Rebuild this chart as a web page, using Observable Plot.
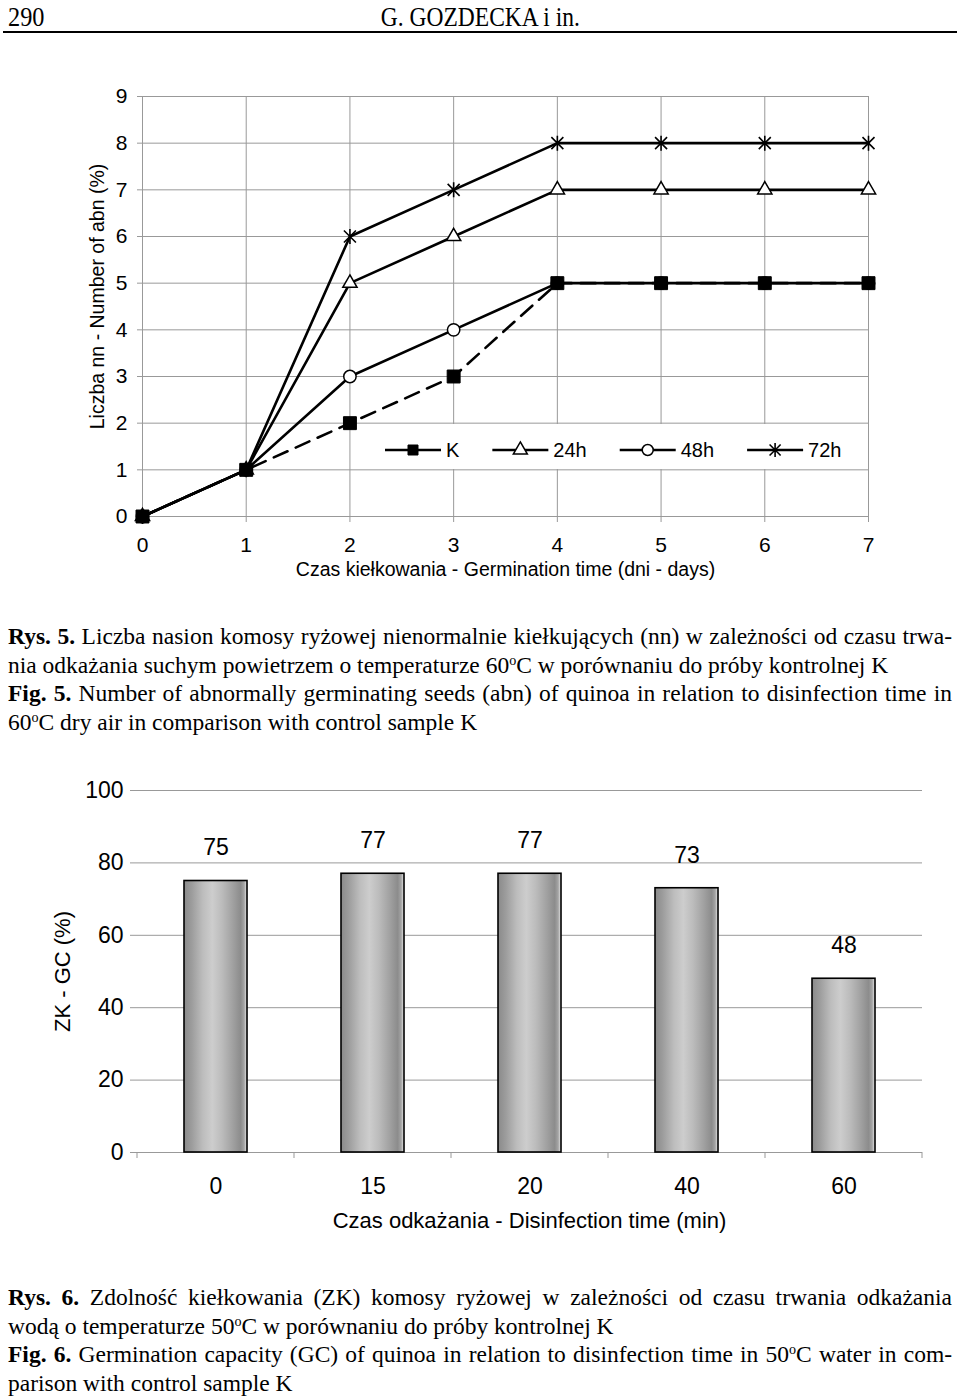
<!DOCTYPE html>
<html>
<head>
<meta charset="utf-8">
<script src="https://cdn.jsdelivr.net/npm/d3@7"></script>
<script src="https://cdn.jsdelivr.net/npm/@observablehq/plot@0.6"></script>
<style>
  html, body { margin: 0; padding: 0; background: #fff; }
  #page { position: relative; width: 960px; height: 1397px; overflow: hidden; background: #fff;
          font-family: "Liberation Sans", Arial, sans-serif; color: #000; }
  .serif { font-family: "Liberation Serif", "Times New Roman", serif; color: #000; }
  .cap { position: absolute; left: 8px; width: 944px; font-size: 23.5px; line-height: 28.6px; }
  .cap > div { white-space: nowrap; height: 28.6px; }
  .cap > div > span { display: inline-block; white-space: nowrap; transform-origin: 0 50%; }
  .cap b { font-weight: bold; }
  sup { font-size: 0.6em; vertical-align: 0.55em; line-height: 0; }
  .chart { position: absolute; left: 0; }
  .legend { position: absolute; left: 368px; width: 482px; height: 45px; background: #fff; }
</style>
</head>
<body>
<div id="page">
  <div class="serif" style="position:absolute; left:8px; top:2px;">
    <span style="display:inline-block; font-size:27px; line-height:30px; transform:scaleX(0.9); transform-origin:0 0;">290</span>
  </div>
  <div class="serif" style="position:absolute; left:0; width:960px; top:2px; text-align:center;">
    <span style="display:inline-block; font-size:27px; line-height:30px; transform:scaleX(0.87);">G. GOZDECKA i in.</span>
  </div>
  <div style="position:absolute; left:3px; width:954px; top:31px; height:2px; background:#000;"></div>

  <div id="chart1" class="chart" style="top:70px;"></div>
  <div id="chart2" class="chart" style="top:760px;"></div>

  <div class="cap serif" style="top:622px;">
    <div class="j"><span><b>Rys. 5.</b> Liczba nasion komosy ryżowej nienormalnie kiełkujących (nn) w zależności od czasu trwa-</span></div>
    <div><span>nia odkażania suchym powietrzem o temperaturze 60<sup>o</sup>C w porównaniu do próby kontrolnej K</span></div>
    <div class="j"><span><b>Fig. 5.</b> Number of abnormally germinating seeds (abn) of quinoa in relation to disinfection time in</span></div>
    <div><span>60<sup>o</sup>C dry air in comparison with control sample K</span></div>
  </div>

  <div class="cap serif" style="top:1283px;">
    <div class="j"><span><b>Rys. 6.</b> Zdolność kiełkowania (ZK) komosy ryżowej w zależności od czasu trwania odkażania</span></div>
    <div><span>wodą o temperaturze 50<sup>o</sup>C w porównaniu do próby kontrolnej K</span></div>
    <div class="j"><span><b>Fig. 6.</b> Germination capacity (GC) of quinoa in relation to disinfection time in 50<sup>o</sup>C water in com-</span></div>
    <div><span>parison with control sample K</span></div>
  </div>
</div>

<script>
// ---------- Data: Fig. 5 (line chart) ----------
const days = [0, 1, 2, 3, 4, 5, 6, 7];
const valuesK   = [0, 1, 2, 3, 5, 5, 5, 5];
const values24h = [0, 1, 5, 6, 7, 7, 7, 7];
const values48h = [0, 1, 3, 4, 5, 5, 5, 5];
const values72h = [0, 1, 6, 7, 8, 8, 8, 8];
const seriesNames = ["K", "24h", "48h", "72h"];
const yTicks1 = [0, 1, 2, 3, 4, 5, 6, 7, 8, 9];
const xLabel1 = "Czas kiełkowania - Germination time (dni - days)";
const yLabel1 = "Liczba nn - Number of abn (%)";

// ---------- Data: Fig. 6 (bar chart) ----------
const times = ["0", "15", "20", "40", "60"];
const gcValues = [75, 77, 77, 73, 48];
const yTicks2 = [0, 20, 40, 60, 80, 100];
const xLabel2 = "Czas odkażania - Disinfection time (min)";
const yLabel2 = "ZK - GC (%)";

// ---------- Styling ----------
const gridColor = "#999999";
const font = "Liberation Sans, Arial, sans-serif";

const starSymbol = {
  draw(ctx, size) {
    const r = Math.sqrt(size / Math.PI);
    const a = r * 0.8;
    ctx.moveTo(0, -r); ctx.lineTo(0, r);
    ctx.moveTo(-a, -a); ctx.lineTo(a, a);
    ctx.moveTo(-a, a); ctx.lineTo(a, -a);
  }
};

const seriesValues = new Map([["K", valuesK], ["24h", values24h], ["48h", values48h], ["72h", values72h]]);
const rows = seriesNames.flatMap(s => days.map((d, i) => ({series: s, day: d, value: seriesValues.get(s)[i]})));
const of = s => rows.filter(r => r.series === s);

const markerStyle = {
  "K":   {symbol: "square",   r: 7.3, fill: "black", stroke: "black", strokeWidth: 1},
  "24h": {symbol: "triangle", r: 5.3, fill: "white", stroke: "black", strokeWidth: 1.5},
  "48h": {symbol: "circle",   r: 6.2, fill: "white", stroke: "black", strokeWidth: 1.5},
  "72h": {symbol: starSymbol, r: 7.5, fill: "none",  stroke: "black", strokeWidth: 1.6}
};

const chart1 = Plot.plot({
  width: 960, height: 530,
  marginTop: 26, marginRight: 92, marginBottom: 84, marginLeft: 142,
  style: {fontFamily: font, background: "transparent", color: "black", overflow: "visible"},
  x: {domain: [0, 7]},
  y: {domain: [0, 9]},
  marks: [
    Plot.gridY(yTicks1, {stroke: gridColor, strokeOpacity: 1}),
    Plot.gridX(days, {stroke: gridColor, strokeOpacity: 1}),
    Plot.axisY(yTicks1, {tickSize: 5, tickPadding: 10, stroke: gridColor, fill: "black", fontSize: 21, label: null}),
    Plot.axisX(days, {tickSize: 6, tickPadding: 15, stroke: gridColor, fill: "black", fontSize: 21, label: null}),
    Plot.line(of("72h"), {x: "day", y: "value", stroke: "black", strokeWidth: 2.6}),
    Plot.line(of("24h"), {x: "day", y: "value", stroke: "black", strokeWidth: 2.6}),
    Plot.line(of("48h"), {x: "day", y: "value", stroke: "black", strokeWidth: 2.6}),
    Plot.line(of("K"),   {x: "day", y: "value", stroke: "black", strokeWidth: 2.6, strokeDasharray: "15,9"}),
    ...["72h", "48h", "24h", "K"].map(s => Plot.dot(of(s), {x: "day", y: "value", ...markerStyle[s]})),
    Plot.text([xLabel1], {text: d => d, frameAnchor: "bottom", dy: 53, fontSize: 19.5, lineAnchor: "middle", textAnchor: "middle"}),
    Plot.text([yLabel1], {text: d => d, frameAnchor: "left", dx: -45, dy: -10, rotate: -90, fontSize: 19.5, lineAnchor: "middle", textAnchor: "middle"})
  ]
});
document.getElementById("chart1").append(chart1);

// Legend (inside the plot area, as in the original)
(function legend() {
  const div = d3.select("#chart1").append("div").attr("class", "legend").style("top", (424 - 70) + "px");
  const svg = div.append("svg").attr("width", 482).attr("height", 45).style("overflow", "visible");
  const sym = {
    "K": d3.symbol(d3.symbolSquare, 100),
    "24h": d3.symbol(d3.symbolTriangle, 85),
    "48h": d3.symbol(d3.symbolCircle, 95),
    "72h": d3.symbol(starSymbol, 150)
  };
  const cy = 26;
  let x = 17;
  seriesNames.forEach(s => {
    const len = 56;
    svg.append("line").attr("x1", x).attr("x2", x + len).attr("y1", cy).attr("y2", cy)
      .attr("stroke", "black").attr("stroke-width", 2.6);
    const st = markerStyle[s];
    svg.append("path").attr("d", sym[s]()).attr("transform", `translate(${x + len / 2},${cy})`)
      .attr("fill", st.fill).attr("stroke", "black").attr("stroke-width", st.strokeWidth);
    const t = svg.append("text").attr("x", x + len + 5).attr("y", cy).attr("dy", "0.36em")
      .attr("font-family", font).attr("font-size", 20).text(s);
    x = x + len + 5 + t.node().getComputedTextLength() + 33;
  });
})();

// ---------- Fig. 6 ----------
const barRows = times.map((t, i) => ({time: t, gc: gcValues[i]}));

const gradStops = [
  [0, "#8a8a8a"], [0.12, "#9c9c9c"], [0.3, "#bdbdbd"], [0.45, "#cdcdcd"], [0.6, "#bcbcbc"],
  [0.78, "#a0a0a0"], [0.9, "#8c8c8c"], [0.955, "#a5a5a5"], [1, "#f0f0f0"]
];
const defsMark = () => {
  const defs = d3.create("svg:defs");
  const g = defs.append("linearGradient").attr("id", "barGrad")
    .attr("x1", 0).attr("x2", 1).attr("y1", 0).attr("y2", 0);
  gradStops.forEach(([o, c]) => g.append("stop").attr("offset", o).attr("stop-color", c));
  return defs.node();
};
const boundaryTicks = (index, scales, values, dims) => {
  const g = d3.create("svg:g");
  try {
    const x = scales.x;
    const bw = typeof x.bandwidth === "function" ? x.bandwidth() : x.bandwidth;
    const c0 = x(times[0]), step = x(times[1]) - c0;
    const gap = (step - bw) / 2;
    const y0 = dims.height - dims.marginBottom;
    for (let i = 0; i <= times.length; i++) {
      const xx = c0 - gap + i * step;
      g.append("line").attr("x1", xx).attr("x2", xx).attr("y1", y0).attr("y2", y0 + 6)
        .attr("stroke", gridColor);
    }
  } catch (e) {}
  return g.node();
};

const chart2 = Plot.plot({
  width: 960, height: 490,
  marginTop: 30, marginRight: 38, marginBottom: 98, marginLeft: 136,
  style: {fontFamily: font, background: "transparent", color: "black", overflow: "visible"},
  x: {type: "band", domain: times, paddingInner: 0.6, paddingOuter: 0.3},
  y: {domain: [0, 100]},
  marks: [
    defsMark,
    Plot.gridY(yTicks2, {stroke: gridColor, strokeOpacity: 1}),
    Plot.axisY(yTicks2, {tickSize: 6, tickPadding: 7, stroke: gridColor, fill: "black", fontSize: 23, label: null}),
    Plot.axisX({tickSize: 0, tickPadding: 25, fill: "black", fontSize: 23, label: null}),
    boundaryTicks,
    Plot.barY(barRows, {x: "time", y: "gc", fill: "url(#barGrad)", stroke: "black", strokeWidth: 1.6}),
    Plot.text(barRows, {x: "time", y: "gc", text: d => String(d.gc), dy: -33, fontSize: 23}),
    Plot.text([xLabel2], {text: d => d, frameAnchor: "bottom", dy: 68, fontSize: 22, lineAnchor: "middle", textAnchor: "middle"}),
    Plot.text([yLabel2], {text: d => d, frameAnchor: "left", dx: -74, rotate: -90, fontSize: 22, lineAnchor: "middle", textAnchor: "middle"})
  ]
});
document.getElementById("chart2").append(chart2);

// Justify caption lines that span the full text width (as in the printed page)
document.querySelectorAll(".cap > div.j > span").forEach(span => {
  const target = 944;
  const w = span.getBoundingClientRect().width;
  const spaces = (span.textContent.match(/ /g) || []).length;
  if (w < target && spaces > 0) {
    span.style.wordSpacing = ((target - w) / spaces) + "px";
  } else if (w > target) {
    span.style.transform = `scaleX(${target / w})`;
  }
});
</script>
</body>
</html>
